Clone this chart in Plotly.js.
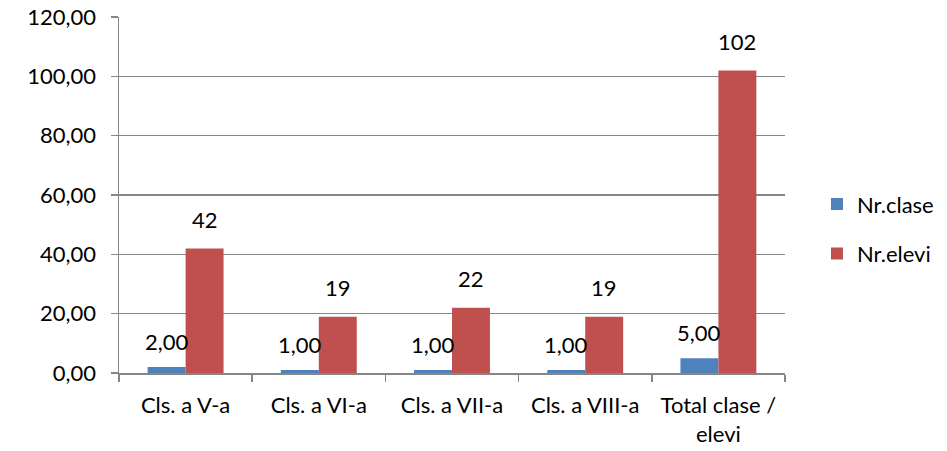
<!DOCTYPE html>
<html>
<head>
<meta charset="utf-8">
<script src="https://cdn.plot.ly/plotly-3.0.1.min.js"></script>
<style>html,body{margin:0;padding:0;background:#fff;}#chart{width:947px;height:451px;}</style>
</head>
<body>
<div id="chart"></div>
<script>
const categories = ["Cls. a V-a", "Cls. a VI-a", "Cls. a VII-a", "Cls. a VIII-a", "Total clase /<br>elevi"];
const nrClase = [2, 1, 1, 1, 5];
const nrElevi = [42, 19, 22, 19, 102];
const yTicks = [0, 20, 40, 60, 80, 100, 120];

const FONT = "Lato, 'Open Sans', sans-serif";
const FS = 22;
const fmt2 = v => v.toFixed(2).replace('.', ',');

const traces = [
  {type: 'bar', name: 'Nr.clase', x: categories, y: nrClase, marker: {color: '#4F81BD'}, legendgroup: 'a', hoverinfo: 'none'},
  {type: 'bar', name: 'Nr.elevi', x: categories, y: nrElevi, marker: {color: '#C0504D'}, legendgroup: 'b', hoverinfo: 'none'}
];

const annotations = [];
categories.forEach((c, i) => {
  annotations.push({x: c, y: nrClase[i], text: fmt2(nrClase[i]), showarrow: false, xshift: -19, yshift: 26, yanchor: 'middle', font: {family: FONT, size: FS, color: '#000'}});
  annotations.push({x: c, y: nrElevi[i], text: String(nrElevi[i]), showarrow: false, xshift: 19, yshift: 29, yanchor: 'middle', font: {family: FONT, size: FS, color: '#000'}});
});

const layout = {
  width: 947, height: 451,
  margin: {l: 119, r: 162, t: 17, b: 78, autoexpand: false},
  paper_bgcolor: '#fff', plot_bgcolor: '#fff',
  separators: ', ',
  font: {family: FONT, size: FS, color: '#000'},
  barmode: 'group', bargap: 0.43, bargroupgap: 0,
  showlegend: true,
  legend: {x: 1.048, y: 0.404, xanchor: 'left', yanchor: 'middle', traceorder: 'grouped', tracegroupgap: 18, font: {family: FONT, size: FS, color: '#000'}, itemwidth: 30},
  xaxis: {
    type: 'category', showline: true, linecolor: '#868686', linewidth: 1.5,
    ticks: 'outside', tickson: 'boundaries', ticklen: 7, tickcolor: '#868686', tickwidth: 1.5,
    ticklabelstandoff: 12,
    showgrid: false, fixedrange: true, tickfont: {family: FONT, size: FS, color: '#000'}
  },
  yaxis: {
    range: [0, 120], tickvals: yTicks, ticktext: yTicks.map(fmt2),
    showline: true, linecolor: '#868686', linewidth: 1.5,
    ticks: 'outside', ticklen: 7, tickcolor: '#868686', tickwidth: 1.5,
    ticklabelstandoff: 10,
    showgrid: true, gridcolor: '#868686', gridwidth: 1.5, zeroline: false,
    tickfont: {family: FONT, size: FS, color: '#000'}, fixedrange: true
  },
  annotations: annotations
};

Plotly.newPlot('chart', traces, layout, {displayModeBar: false, staticPlot: true});
</script>
</body>
</html>
